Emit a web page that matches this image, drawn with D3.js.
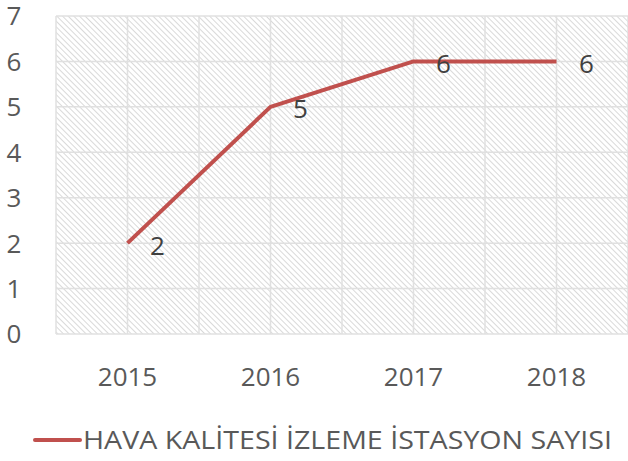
<!DOCTYPE html>
<html>
<head>
<meta charset="utf-8">
<script src="https://cdn.jsdelivr.net/npm/d3@7"></script>
<style>
  body { margin: 0; background: #fff; }
  text { font-family: "Open Sans", sans-serif; fill: #595959; }
</style>
</head>
<body>
<svg></svg>
<script>
var years = ['2015', '2016', '2017', '2018'];
var values = [2, 5, 6, 6];
var yTicks = [0, 1, 2, 3, 4, 5, 6, 7];
var seriesName = 'HAVA KALİTESİ İZLEME İSTASYON SAYISI';

var svgWidth = 628, svgHeight = 461;
var margin = {top: 16, right: 0, bottom: 127, left: 56};
var width = svgWidth - margin.left - margin.right;
var height = svgHeight - margin.top - margin.bottom;
var fontSize = '26px';

var svg = d3.select('svg').attr('width', svgWidth).attr('height', svgHeight);

// hatch pattern (downward diagonal)
var defs = svg.append('defs');
var pat = defs.append('pattern')
    .attr('id', 'hatch')
    .attr('patternUnits', 'userSpaceOnUse')
    .attr('width', 4).attr('height', 4)
    .attr('patternTransform', 'rotate(-45)');
pat.append('rect').attr('width', 4).attr('height', 4).attr('fill', '#fff');
pat.append('line').attr('x1', 0).attr('y1', 0).attr('x2', 0).attr('y2', 4)
    .attr('stroke', '#d0d0d0').attr('stroke-width', 1.6);

var x = d3.scaleBand().domain(years).range([0, width]);
var y = d3.scaleLinear().domain([0, 7]).range([height, 0]);

var g = svg.append('g').attr('transform', translate(margin.left, margin.top));

g.append('rect').attr('width', width).attr('height', height).attr('fill', 'url(#hatch)');

// horizontal grid
g.selectAll('.hgrid').data(yTicks).enter().append('line')
    .attr('x1', 0).attr('x2', width)
    .attr('y1', function(d){ return y(d); }).attr('y2', function(d){ return y(d); })
    .attr('stroke', '#e0e0e0').attr('stroke-width', 1.5);

// vertical grid at band edges and centers
var vx = [];
years.forEach(function(d){ vx.push(x(d)); vx.push(x(d) + x.bandwidth() / 2); });
vx.push(width);
g.selectAll('.vgrid').data(vx).enter().append('line')
    .attr('x1', function(d){ return d; }).attr('x2', function(d){ return d; })
    .attr('y1', 0).attr('y2', height)
    .attr('stroke', '#e0e0e0').attr('stroke-width', 1.5);

// y labels
g.selectAll('.ylab').data(yTicks).enter().append('text')
    .attr('x', -42).attr('y', function(d){ return y(d); })
    .attr('dy', '0.36em').attr('text-anchor', 'middle')
    .style('font-size', fontSize)
    .text(function(d){ return d; });

// x labels
g.selectAll('.xlab').data(years).enter().append('text')
    .attr('x', function(d){ return x(d) + x.bandwidth() / 2; })
    .attr('y', height + 43)
    .attr('dy', '0.36em').attr('text-anchor', 'middle')
    .style('font-size', fontSize)
    .text(function(d){ return d; });

var pts = years.map(function(d, i){ return {x: d, y: values[i]}; });
var line = d3.line()
    .x(function(d){ return x(d.x) + x.bandwidth() / 2; })
    .y(function(d){ return y(d.y); });

g.append('path').datum(pts)
    .attr('d', line)
    .attr('fill', 'none').attr('stroke', '#C0504D').attr('stroke-width', 4)
    .attr('stroke-linejoin', 'round');

g.selectAll('.dlab').data(pts).enter().append('text')
    .attr('x', function(d){ return x(d.x) + x.bandwidth() / 2 + 30; })
    .attr('y', function(d){ return y(d.y) + 2; })
    .attr('dy', '0.36em').attr('text-anchor', 'middle')
    .style('font-size', fontSize).style('fill', '#404040')
    .text(function(d){ return d.y; });

// legend
var lg = svg.append('g').attr('transform', translate(35, 440));
lg.append('line').attr('x1', 0).attr('x2', 45).attr('y1', 0).attr('y2', 0)
    .attr('stroke', '#C0504D').attr('stroke-width', 4).attr('stroke-linecap', 'round');
lg.append('text').attr('x', 48).attr('y', 0).attr('dy', '0.36em')
    .attr('textLength', 529).attr('lengthAdjust', 'spacingAndGlyphs')
    .style('font-size', fontSize)
    .text(seriesName);

function translate(x, y) {
  return 'translate(' + x + ',' + y + ')';
}
</script>
</body>
</html>
